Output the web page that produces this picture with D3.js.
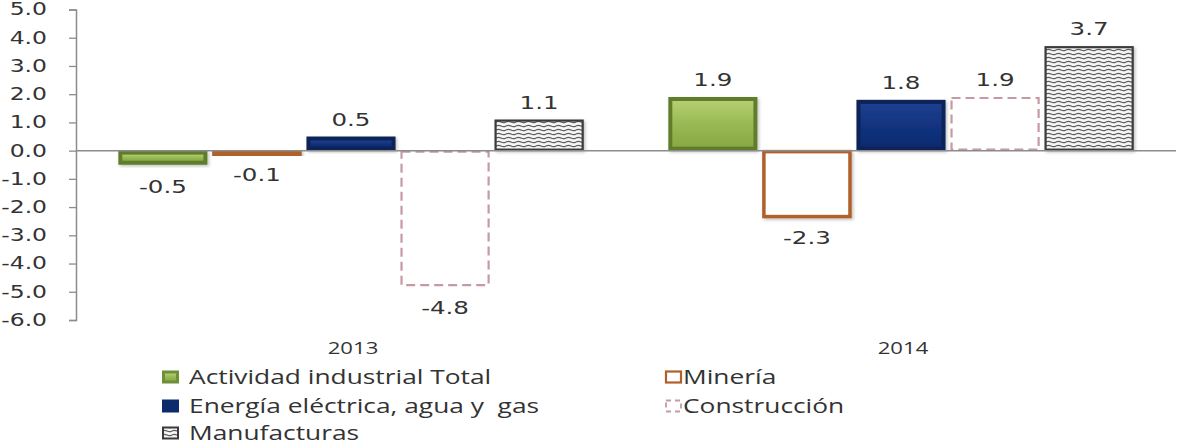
<!DOCTYPE html>
<html>
<head>
<meta charset="utf-8">
<script src="https://cdn.jsdelivr.net/npm/d3@7"></script>
<style>
  html, body { margin: 0; padding: 0; background: #ffffff; }
  svg { display: block; }
  text { white-space: pre; }
</style>
</head>
<body>
<svg id="chart" width="1180" height="444"></svg>
<script>
// Variación anual por sector (%)
const years = ["2013", "2014"];
const sectors = [
  "Actividad industrial Total",
  "Minería",
  "Energía eléctrica, agua y  gas",
  "Construcción",
  "Manufacturas"
];
const values2013 = [-0.5, -0.1, 0.5, -4.8, 1.1];
const values2014 = [1.9, -2.3, 1.8, 1.9, 3.7];
const yTicks = [5, 4, 3, 2, 1, 0, -1, -2, -3, -4, -5, -6];
const legendOrder = [
  "Actividad industrial Total", "Minería",
  "Energía eléctrica, agua y  gas", "Construcción",
  "Manufacturas"
];

const rows = years.map((yr, i) => ({
  year: yr,
  values: sectors.map((s, j) => ({ sector: s, value: [values2013, values2014][i][j] }))
}));

const svg = d3.select("#chart");
const W = 1180, H = 444;
const margin = { left: 76, right: 4, top: 9.5, bottom: 124 };

// one-decimal format with a plain hyphen as minus sign
const fmt = d3.formatLocale({ decimal: ".", thousands: ",", grouping: [3], currency: ["", ""], minus: "-" }).format(".1f");

const x0 = d3.scaleBand().domain(years)
  .range([margin.left, W - margin.right]).paddingInner(0).paddingOuter(0);
const x1 = d3.scaleBand().domain(sectors)
  .range([0, x0.bandwidth()]).paddingInner(0.053).paddingOuter(0.45);
const y = d3.scaleLinear().domain([-6, 5]).range([H - margin.bottom, margin.top]);

// horizontally widened text, as in the original figure
function widen(sel, f) {
  sel.each(function () {
    const w = this.getComputedTextLength();
    d3.select(this).attr("textLength", w * f).attr("lengthAdjust", "spacingAndGlyphs");
  });
}

// ---- definitions: gradients and the wave pattern
const defs = svg.append("defs");
function vgrad(id, stops) {
  const g = defs.append("linearGradient").attr("id", id)
    .attr("x1", 0).attr("y1", 0).attr("x2", 0).attr("y2", 1);
  stops.forEach(([o, c]) => g.append("stop").attr("offset", o).attr("stop-color", c));
}
vgrad("greenFace", [[0, "#b4cf72"], [0.5, "#98b954"], [1, "#88a946"]]);
vgrad("blueFace", [[0, "#1d3f8e"], [0.5, "#123380"], [1, "#0d2b70"]]);

const pat = defs.append("pattern").attr("id", "waves")
  .attr("patternUnits", "userSpaceOnUse").attr("width", 10).attr("height", 4);
pat.append("rect").attr("width", 10).attr("height", 4).attr("fill", "#f6f6f6");
pat.append("path")
  .attr("d", "M0,2 Q2.5,0.6 5,2 T10,2")
  .attr("fill", "none").attr("stroke", "#5e5e5e").attr("stroke-width", 1.3);

const shadow = defs.append("filter").attr("id", "shadow")
  .attr("x", "-10%").attr("y", "-10%").attr("width", "130%").attr("height", "130%");
shadow.append("feDropShadow").attr("dx", 1.5).attr("dy", 1.5)
  .attr("stdDeviation", 1.5).attr("flood-color", "#000").attr("flood-opacity", 0.25);

// ---- y axis
const yAxis = svg.append("g").attr("transform", `translate(${margin.left},0)`)
  .call(d3.axisLeft(y).tickValues(yTicks).tickFormat(fmt).tickSize(7).tickPadding(10));
yAxis.select(".domain").attr("stroke", "#8c8c8c").attr("stroke-width", 1.5);
yAxis.selectAll(".tick line").attr("stroke", "#8c8c8c").attr("stroke-width", 1.3);
yAxis.selectAll(".tick text")
  .attr("font-family", "DejaVu Sans").attr("font-size", 17).attr("fill", "#333")
  .attr("text-anchor", "start")
  .each(function () {
    const f = 1.38;
    const w = this.getComputedTextLength() * f;
    d3.select(this).attr("x", -29 - w)
      .attr("textLength", w).attr("lengthAdjust", "spacingAndGlyphs");
  });

// ---- bars
function barRect(d) {
  const v = d.value;
  const top = y(Math.max(v, 0)), bot = y(Math.min(v, 0));
  return { x: x1(d.sector), y: top, w: x1.bandwidth(), h: bot - top };
}

const groups = svg.append("g").selectAll("g").data(rows).join("g")
  .attr("transform", d => `translate(${x0(d.year)},0)`);

groups.each(function (row) {
  const g = d3.select(this);
  row.values.forEach(d => {
    const r = barRect(d);
    if (d.sector === sectors[0] || d.sector === sectors[2]) {
      const green = d.sector === sectors[0];
      const bg = g.append("g").attr("filter", "url(#shadow)");
      bg.append("rect").attr("x", r.x).attr("y", r.y).attr("width", r.w).attr("height", r.h)
        .attr("fill", green ? "#5f7d2c" : "#0a2257");
      const inset = Math.min(4, r.h / 3);
      bg.append("rect").attr("x", r.x + inset).attr("y", r.y + inset)
        .attr("width", r.w - 2 * inset).attr("height", Math.max(0, r.h - 2 * inset))
        .attr("fill", green ? "url(#greenFace)" : "url(#blueFace)");
    } else if (d.sector === sectors[1]) {
      g.append("rect").attr("x", r.x + 1.5).attr("y", r.y + 1)
        .attr("width", r.w - 3).attr("height", r.h)
        .attr("fill", "#ffffff").attr("stroke", "#b0602a").attr("stroke-width", 3.5)
        .attr("filter", "url(#shadow)");
    } else if (d.sector === sectors[3]) {
      g.append("rect").attr("x", r.x + 1).attr("y", r.y + 1)
        .attr("width", r.w - 2).attr("height", r.h - 2)
        .attr("fill", "#ffffff").attr("stroke", "#c49aa3").attr("stroke-width", 2.2)
        .attr("stroke-dasharray", "9,5");
    } else {
      g.append("rect").attr("x", r.x + 1).attr("y", r.y + 1)
        .attr("width", r.w - 2).attr("height", r.h - 2)
        .attr("fill", "url(#waves)").attr("stroke", "#3a3a3a").attr("stroke-width", 2.2)
        .attr("filter", "url(#shadow)");
    }
  });

  // value labels
  g.selectAll("text.val").data(row.values).join("text").attr("class", "val")
    .attr("x", d => x1(d.sector) + x1.bandwidth() / 2)
    .attr("y", d => d.value >= 0 ? y(d.value) - 11 : y(d.value) + 28)
    .attr("text-anchor", "middle")
    .attr("font-family", "DejaVu Sans").attr("font-size", 17.5).attr("fill", "#333")
    .text(d => fmt(d.value))
    .call(widen, 1.4);
});

// zero line
svg.append("line")
  .attr("x1", margin.left).attr("x2", W - margin.right)
  .attr("y1", y(0)).attr("y2", y(0))
  .attr("stroke", "#8c8c8c").attr("stroke-width", 1.5);

// category labels
svg.append("g").selectAll("text").data(years).join("text")
  .attr("x", d => x0(d) + x0.bandwidth() / 2 + 2)
  .attr("y", 354)
  .attr("text-anchor", "middle")
  .attr("font-family", "Open Sans").attr("font-size", 17).attr("fill", "#333")
  .text(d => d)
  .call(widen, 1.3);

// ---- legend
const legendPos = [
  { x: 162, y: 377 }, { x: 665, y: 377 },
  { x: 162, y: 406 }, { x: 665, y: 406 },
  { x: 162, y: 433 }
];
const leg = svg.append("g").selectAll("g").data(legendOrder).join("g")
  .attr("transform", (d, i) => `translate(${legendPos[i].x},${legendPos[i].y})`);

leg.each(function (name) {
  const g = d3.select(this);
  const idx = sectors.indexOf(name);
  const sw = 17, sh = 13;
  if (idx === 0) {
    g.append("rect").attr("x", 0).attr("y", -sh / 2).attr("width", sw).attr("height", sh).attr("fill", "#6f8f38");
    g.append("rect").attr("x", 3).attr("y", -sh / 2 + 3).attr("width", sw - 6).attr("height", sh - 6).attr("fill", "url(#greenFace)");
  } else if (idx === 2) {
    g.append("rect").attr("x", 0).attr("y", -sh / 2).attr("width", sw).attr("height", sh).attr("fill", "#0d2a6b");
  } else if (idx === 1) {
    g.append("rect").attr("x", 1).attr("y", -sh / 2 + 1).attr("width", sw - 2).attr("height", sh - 2)
      .attr("fill", "#fff").attr("stroke", "#b0602a").attr("stroke-width", 2.2);
  } else if (idx === 3) {
    g.append("rect").attr("x", 1).attr("y", -sh / 2 + 1).attr("width", sw - 2).attr("height", sh - 2)
      .attr("fill", "#fff").attr("stroke", "#c49aa3").attr("stroke-width", 1.8).attr("stroke-dasharray", "5,4");
  } else {
    g.append("rect").attr("x", 1).attr("y", -sh / 2 + 1).attr("width", sw - 2).attr("height", sh - 2)
      .attr("fill", "url(#waves)").attr("stroke", "#3a3a3a").attr("stroke-width", 2);
  }
  g.append("text")
    .attr("x", idx === 1 || idx === 3 ? 18 : 27).attr("y", 6.5)
    .attr("font-family", "Open Sans").attr("font-size", 19.5).attr("fill", "#333")
    .text(name)
    .call(widen, 1.35);
});
</script>
</body>
</html>
